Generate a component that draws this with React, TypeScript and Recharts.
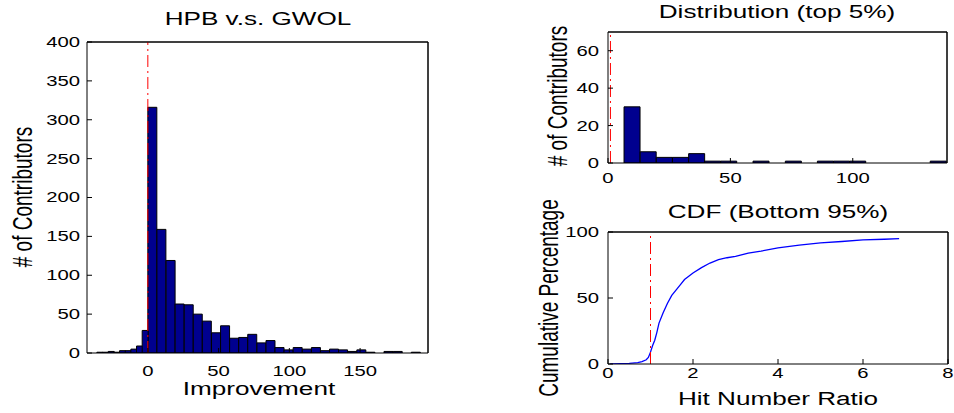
import React from "react";
import { ComposedChart, Bar, Line, XAxis, YAxis, ReferenceLine } from "recharts";

const NAVY = "#00008f";
const FONT = '"Liberation Sans", Arial, Helvetica, sans-serif';
const STRETCH = 1.45; // the source figure is stretched sideways
const DASHDOT = "12 4 2 4";

// HPB v.s. GWOL: negative bins are 4 wide, positive bins ~6.42 wide
const negCenters = [-38, -34, -30, -26, -22, -18, -14, -10, -6, -2];
const negCounts = [0, 1, 1, 2, 1, 3, 3, 5, 9, 29];
const posCenters = [
  3.2, 9.6, 16.1, 22.5, 28.9, 35.3, 41.7, 48.2, 54.6, 61.0,
  67.4, 73.8, 80.3, 86.7, 93.1, 99.5, 105.9, 112.4, 118.8, 125.2,
  131.6, 138.0, 144.5, 150.9, 157.3, 163.7, 170.1, 176.6, 183.0, 189.4,
];
const posCounts = [
  316, 159, 119, 63, 62, 50, 41, 26, 35, 19,
  20, 24, 13, 16, 7, 4, 7, 5, 7, 3,
  5, 4, 2, 4, 1, 0, 2, 2, 0, 1,
];
const impDomain = [-43, 198];
const impTicksX = [0, 50, 100, 150];
const impTicksY = [0, 50, 100, 150, 200, 250, 300, 350, 400];

// Distribution (top 5%)
const topCenters = [
  9.8, 16.4, 23.0, 29.6, 36.2, 42.7, 49.3, 55.9, 62.5, 69.1,
  75.7, 82.3, 88.8, 95.4, 102.0, 108.6, 115.2, 121.8, 128.4, 134.9,
];
const topCounts = [30, 6, 3, 3, 5, 1, 1, 0, 1, 0, 1, 0, 1, 1, 1, 0, 0, 0, 0, 1];
const topDomain = [0, 138.5];
const topTicksX = [0, 50, 100];
const topTicksY = [0, 20, 40, 60];

// CDF (Bottom 95%)
const cdfRatio = [
  0.05, 0.3, 0.5, 0.7, 0.8, 0.9, 0.95, 1.0, 1.05, 1.1, 1.15, 1.2, 1.3, 1.4, 1.5, 1.6, 1.7,
  1.8, 1.9, 2.0, 2.2, 2.4, 2.6, 2.8, 3.0, 3.3, 3.6, 4.0, 4.5, 5.0, 5.5, 6.0, 6.5, 6.85,
];
const cdfPct = [
  0, 0.2, 0.5, 1, 1.8, 3.2, 5, 9, 14, 18, 24, 31, 39, 46, 52, 56, 60,
  64, 66.5, 69, 73, 76.5, 79, 80.5, 81.5, 84, 85.5, 88, 90, 91.7, 92.8, 94, 94.5, 95,
];
const cdfTicksX = [0, 2, 4, 6, 8];
const cdfTicksY = [0, 50, 100];

const negRows = negCenters.map((x, i) => ({ x, n: negCounts[i] }));
const posRows = posCenters.map((x, i) => ({ x, n: posCounts[i] }));
const topRows = topCenters.map((x, i) => ({ x, n: topCounts[i] }));
const cdfRows = cdfRatio.map((x, i) => ({ x, p: cdfPct[i] }));

const XTick = (props: any) => (
  <g transform={`translate(${props.x},${props.y})`}>
    <text transform={`scale(${STRETCH},1)`} textAnchor="middle" dy="0.71em" fontSize={14} fontFamily={FONT} fill="#000">
      {props.payload.value}
    </text>
  </g>
);

const YTick = (props: any) => (
  <g transform={`translate(${props.x},${props.y})`}>
    <text transform={`scale(${STRETCH},1)`} textAnchor="end" dy="0.355em" fontSize={14} fontFamily={FONT} fill="#000">
      {props.payload.value}
    </text>
  </g>
);

function Txt({ x, y, size, vertical, children }: { x: number; y: number; size: number; vertical?: boolean; children: React.ReactNode }) {
  return (
    <div
      style={{
        position: "absolute", left: x, top: y, fontSize: size, fontFamily: FONT,
        lineHeight: 1, whiteSpace: "nowrap", color: "#000",
        transform: vertical
          ? `translate(-50%,-50%) rotate(-90deg) scaleY(${STRETCH})`
          : `translate(-50%,-50%) scaleX(${STRETCH})`,
      }}
    >
      {children}
    </div>
  );
}

// matlab style box: labelled bottom/left axes, top/right axes with inward ticks only
function boxAxes(xDomain: number[], xTicks: number[], yDomain: number[], yTicks: number[], yW: number, xH: number, xMargin: number, yMargin: number, yKey: string) {
  return [
    <XAxis key="xb" dataKey="x" type="number" domain={xDomain} allowDataOverflow ticks={xTicks} interval={0}
      height={xH} tickSize={-5} tickMargin={xMargin} tick={<XTick />} stroke="#000" />,
    <XAxis key="xt" xAxisId="top" orientation="top" dataKey="x" type="number" domain={xDomain} allowDataOverflow
      ticks={xTicks} interval={0} height={1} tickSize={-5} tick={false} stroke="#000" />,
    <YAxis key="yl" type="number" domain={yDomain} allowDataOverflow ticks={yTicks} interval={0}
      width={yW} tickSize={-5} tickMargin={yMargin} tick={<YTick />} stroke="#000" />,
    <YAxis key="yr" yAxisId="right" orientation="right" type="number" domain={yDomain} allowDataOverflow
      ticks={yTicks} interval={0} width={1} tickSize={-5} tick={false} stroke="#000" />,
    // hidden series so the top/right axes have something to belong to
    <Line key="ghost" xAxisId="top" yAxisId="right" dataKey={yKey} stroke="none" dot={false} activeDot={false}
      legendType="none" isAnimationActive={false} />,
    <ReferenceLine key="edgeTop" y={yDomain[1]} stroke="#000" ifOverflow="extendDomain" />,
    <ReferenceLine key="edgeRight" x={xDomain[1]} stroke="#000" ifOverflow="extendDomain" />,
  ];
}

export default function App() {
  return (
    <div style={{ position: "absolute", left: 0, top: 0, width: 954, height: 413, background: "#fff", overflow: "hidden" }}>
      {/* left panel, positive bins (drawn underneath) */}
      <div style={{ position: "absolute", left: 17, top: 31 }}>
        <ComposedChart width={412} height={372} data={posRows} margin={{ top: 11, right: 1, bottom: 50, left: 70 }} barCategoryGap={0} barGap={0}>
          <XAxis dataKey="x" type="number" domain={impDomain} allowDataOverflow hide />
          <YAxis type="number" domain={[0, 400]} allowDataOverflow hide />
          <Bar dataKey="n" fill={NAVY} stroke="#000" strokeWidth={1} isAnimationActive={false} />
        </ComposedChart>
      </div>
      {/* left panel, negative bins + frame */}
      <div style={{ position: "absolute", left: 17, top: 31 }}>
        <ComposedChart width={412} height={372} data={negRows} margin={{ top: 10, right: 0, bottom: 0, left: 0 }} barCategoryGap={0} barGap={0}>
          {boxAxes(impDomain, impTicksX, [0, 400], impTicksY, 70, 50, 18, 12, "n")}
          <Bar dataKey="n" fill={NAVY} stroke="#000" strokeWidth={1} isAnimationActive={false} />
          <ReferenceLine x={0} stroke="#ff0000" strokeWidth={1} strokeDasharray={DASHDOT} />
        </ComposedChart>
      </div>

      {/* top right: distribution of top 5% */}
      <div style={{ position: "absolute", left: 548, top: 21 }}>
        <ComposedChart width={400} height={182} data={topRows} margin={{ top: 10, right: 0, bottom: 0, left: 0 }} barCategoryGap={0} barGap={0}>
          {boxAxes(topDomain, topTicksX, [0, 70], topTicksY, 60, 40, 15, 14, "n")}
          <Bar dataKey="n" fill={NAVY} stroke="#000" strokeWidth={1} isAnimationActive={false} />
          <ReferenceLine x={1} stroke="#ff0000" strokeWidth={1} strokeDasharray={DASHDOT} />
        </ComposedChart>
      </div>

      {/* bottom right: CDF of bottom 95% */}
      <div style={{ position: "absolute", left: 548, top: 221 }}>
        <ComposedChart width={411} height={183} data={cdfRows} margin={{ top: 10, right: 10, bottom: 0, left: 0 }}>
          {boxAxes([0, 8], cdfTicksX, [0, 100], cdfTicksY, 60, 40, 9, 14, "p")}
          <Line dataKey="p" type="linear" stroke="#0000ff" strokeWidth={1.3} dot={false} isAnimationActive={false} />
          <ReferenceLine x={1} stroke="#ff0000" strokeWidth={1} strokeDasharray={DASHDOT} />
        </ComposedChart>
      </div>

      <Txt x={258} y={19} size={18}>HPB v.s. GWOL</Txt>
      <Txt x={259} y={389} size={18}>Improvement</Txt>
      <Txt x={23} y={197} size={19} vertical># of Contributors</Txt>

      <Txt x={777} y={12} size={18}>Distribution (top 5%)</Txt>
      <Txt x={558} y={96} size={19} vertical># of Contributors</Txt>

      <Txt x={778} y={212} size={18}>CDF (Bottom 95%)</Txt>
      <Txt x={778} y={399} size={18}>Hit Number Ratio</Txt>
      <Txt x={549} y={298} size={19} vertical>Cumulative Percentage</Txt>
    </div>
  );
}
